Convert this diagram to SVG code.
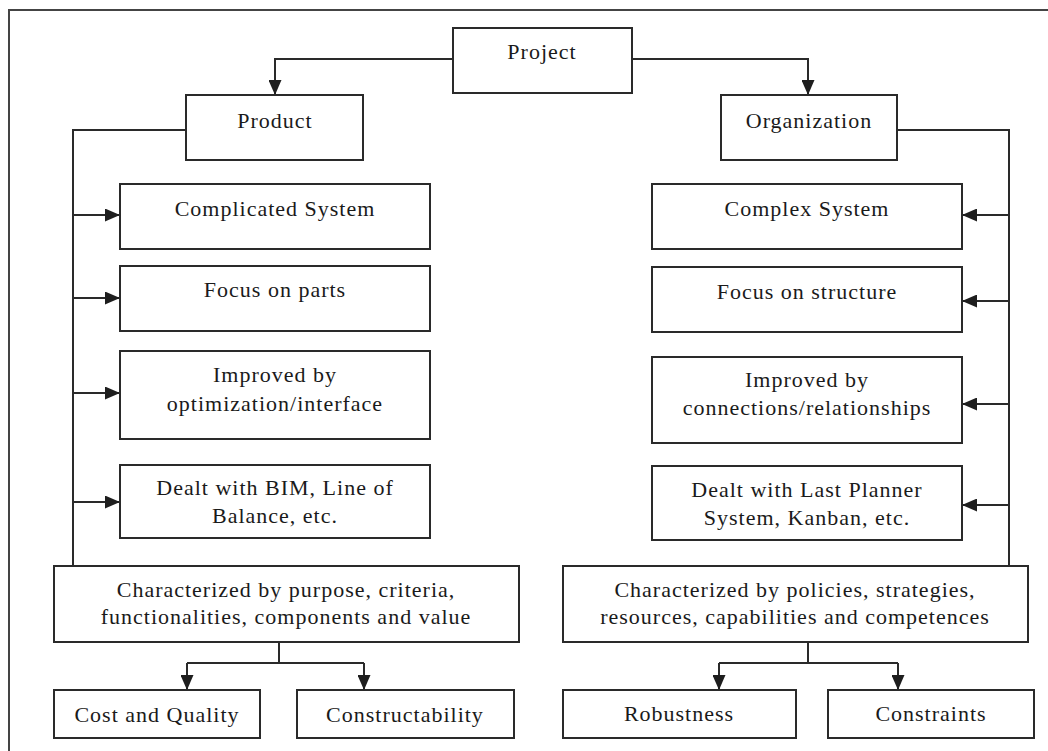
<svg xmlns="http://www.w3.org/2000/svg" width="1048" height="751" viewBox="0 0 1048 751">
<defs>
<style>
.box{fill:#fff;stroke:#2a2a2a;stroke-width:2}
.ln{fill:none;stroke:#2a2a2a;stroke-width:2}
.frame{fill:none;stroke:#444;stroke-width:2}
text{font-family:"Liberation Serif","Times New Roman",serif;font-size:22px;fill:#1a1a1a;text-anchor:middle;letter-spacing:1px}
</style>
<marker id="ah" markerUnits="userSpaceOnUse" markerWidth="15" markerHeight="13" refX="15" refY="6.5" orient="auto">
<path d="M0,0 L15,6.5 L0,13 z" fill="#1e1e1e"/>
</marker>
</defs>
<rect width="1048" height="751" fill="#fff"/>
<path class="frame" d="M9,751 V10 H1048"/>
<g id="connectors">
<path class="ln" d="M453,59 H275 V95" marker-end="url(#ah)"/>
<path class="ln" d="M632,59 H808 V95" marker-end="url(#ah)"/>
<path class="ln" d="M186,130 H73 V566"/>
<path class="ln" d="M73,215 H120" marker-end="url(#ah)"/>
<path class="ln" d="M73,298 H120" marker-end="url(#ah)"/>
<path class="ln" d="M73,393 H120" marker-end="url(#ah)"/>
<path class="ln" d="M73,502 H120" marker-end="url(#ah)"/>
<path class="ln" d="M897,130 H1009 V566"/>
<path class="ln" d="M1009,215 H962" marker-end="url(#ah)"/>
<path class="ln" d="M1009,301 H962" marker-end="url(#ah)"/>
<path class="ln" d="M1009,404 H962" marker-end="url(#ah)"/>
<path class="ln" d="M1009,505 H962" marker-end="url(#ah)"/>
<path class="ln" d="M279,642 V663"/>
<path class="ln" d="M187,663 H364"/>
<path class="ln" d="M187,663 V690" marker-end="url(#ah)"/>
<path class="ln" d="M364,663 V690" marker-end="url(#ah)"/>
<path class="ln" d="M808,642 V663"/>
<path class="ln" d="M719,663 H898"/>
<path class="ln" d="M719,663 V690" marker-end="url(#ah)"/>
<path class="ln" d="M898,663 V690" marker-end="url(#ah)"/>
</g>
<g id="project"><rect class="box" x="453" y="28" width="179" height="65"/><text x="542" y="59">Project</text></g>
<g id="product"><rect class="box" x="186" y="95" width="177" height="65"/><text x="275" y="128">Product</text></g>
<g id="organization"><rect class="box" x="721" y="95" width="176" height="65"/><text x="809" y="128">Organization</text></g>
<g id="complicated"><rect class="box" x="120" y="184" width="310" height="65"/><text x="275" y="216">Complicated System</text></g>
<g id="parts"><rect class="box" x="120" y="266" width="310" height="65"/><text x="275" y="297">Focus on parts</text></g>
<g id="improved-left"><rect class="box" x="120" y="351" width="310" height="88"/><text x="275" y="382">Improved by</text><text x="275" y="411">optimization/interface</text></g>
<g id="dealt-left"><rect class="box" x="120" y="465" width="310" height="73"/><text x="275" y="495">Dealt with BIM, Line of</text><text x="275" y="523">Balance, etc.</text></g>
<g id="complex"><rect class="box" x="652" y="184" width="310" height="65"/><text x="807" y="216">Complex System</text></g>
<g id="structure"><rect class="box" x="652" y="267" width="310" height="65"/><text x="807" y="299">Focus on structure</text></g>
<g id="improved-right"><rect class="box" x="652" y="357" width="310" height="86"/><text x="807" y="387">Improved by</text><text x="807" y="415">connections/relationships</text></g>
<g id="dealt-right"><rect class="box" x="652" y="466" width="310" height="74"/><text x="807" y="497">Dealt with Last Planner</text><text x="807" y="525">System, Kanban, etc.</text></g>
<g id="char-left"><rect class="box" x="54" y="566" width="465" height="76"/><text x="286" y="597">Characterized by purpose, criteria,</text><text x="286" y="624">functionalities, components and value</text></g>
<g id="char-right"><rect class="box" x="563" y="566" width="465" height="76"/><text x="795" y="597">Characterized by policies, strategies,</text><text x="795" y="624">resources, capabilities and competences</text></g>
<g id="cost"><rect class="box" x="54" y="690" width="206" height="48"/><text x="157" y="722">Cost and Quality</text></g>
<g id="constructability"><rect class="box" x="297" y="690" width="217" height="48"/><text x="405" y="722">Constructability</text></g>
<g id="robustness"><rect class="box" x="563" y="690" width="233" height="48"/><text x="679" y="721">Robustness</text></g>
<g id="constraints"><rect class="box" x="828" y="690" width="206" height="48"/><text x="931" y="721">Constraints</text></g>
</svg>
